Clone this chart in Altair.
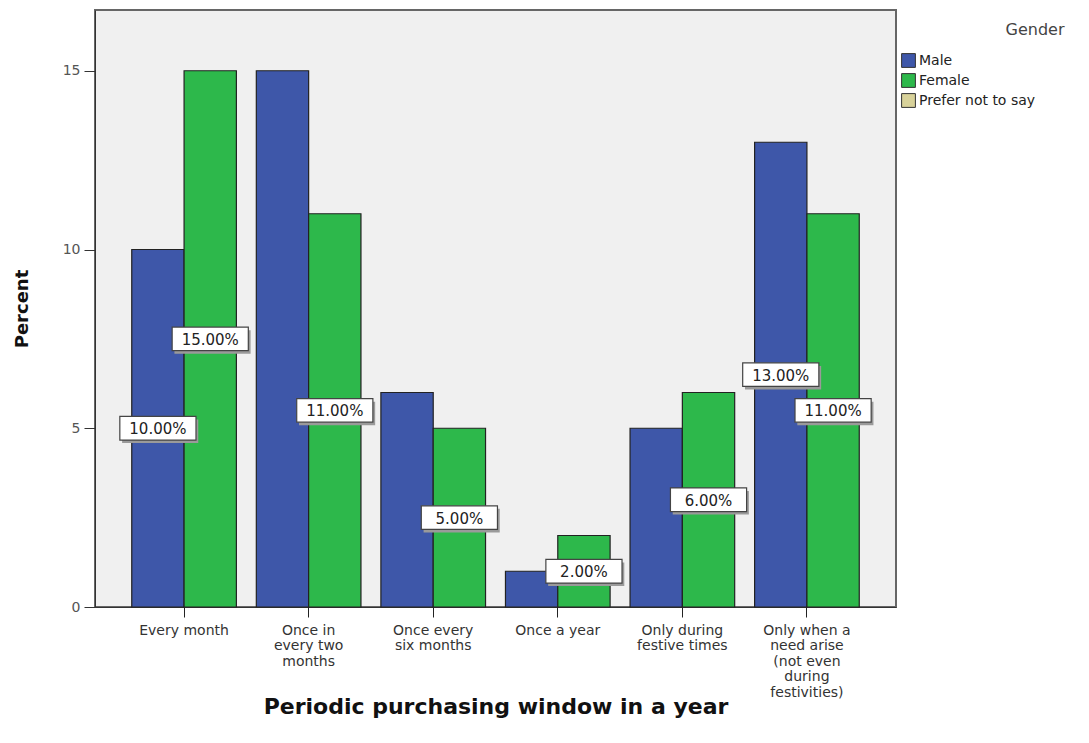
import altair as alt
import pandas as pd

# Purchasing windows (x categories); "|" marks line breaks in the axis labels
windows = [
    "Every month",
    "Once in|every two|months",
    "Once every|six months",
    "Once a year",
    "Only during|festive times",
    "Only when a|need arise|(not even|during|festivities)",
]
genders = ["Male", "Female", "Prefer not to say"]
male_pct = [10, 15, 6, 1, 5, 13]
female_pct = [15, 11, 5, 2, 6, 11]
# which bars carry a value label
male_labelled = [True, False, False, False, False, True]
female_labelled = [True, True, True, True, True, True]

colors = ["#3E57A9", "#2DB84B", "#D8D29A"]
FONT = "DejaVu Sans"

rows = []
for i, w in enumerate(windows):
    rows.append({"window": w, "gender": "Male", "pct": male_pct[i], "lab": male_labelled[i]})
    rows.append({"window": w, "gender": "Female", "pct": female_pct[i], "lab": female_labelled[i]})
df = pd.DataFrame(rows)

x_scale = alt.Scale(domain=windows, paddingInner=0.16, paddingOuter=0.295)
xo_scale = alt.Scale(domain=["Male", "Female"], paddingInner=0, paddingOuter=0)
y_scale = alt.Scale(domain=[0, 16.7], nice=False, zero=True)

x_enc = alt.X(
    "window:N",
    scale=x_scale,
    sort=windows,
    axis=alt.Axis(
        title="Periodic purchasing window in a year",
        labelAngle=0,
        labelExpr="split(datum.label, '|')",
        labelFont=FONT,
        labelFontSize=14,
        labelColor="#333333",
        labelLineHeight=15.5,
        labelPadding=6,
        labelLimit=200,
        tickSize=10,
        tickColor="#222222",
        domainColor="#333333",
        titleFont=FONT,
        titleFontSize=22,
        titleFontWeight="bold",
        titleColor="#111111",
        titleY=99,
        titleBaseline="middle",
    ),
)

y_enc = alt.Y(
    "pct:Q",
    scale=y_scale,
    axis=alt.Axis(
        title="Percent",
        values=[0, 5, 10, 15],
        grid=False,
        labelFont=FONT,
        labelFontSize=14,
        labelColor="#555555",
        labelPadding=4,
        tickSize=11,
        tickColor="#333333",
        domainColor="#333333",
        titleFont=FONT,
        titleFontSize=18,
        titleFontWeight="bold",
        titleColor="#111111",
        titleX=-73,
        titleBaseline="middle",
    ),
)

bars = alt.Chart(df).mark_bar(stroke="#222222", strokeWidth=1.2).encode(
    x=x_enc,
    xOffset=alt.XOffset("gender:N", scale=xo_scale, sort=["Male", "Female"]),
    y=y_enc,
    color=alt.Color(
        "gender:N",
        scale=alt.Scale(domain=genders, range=colors),
        legend=alt.Legend(
            title=None,
            orient="none",
            legendX=806,
            legendY=43,
            labelFont=FONT,
            labelFontSize=14,
            labelColor="#222222",
            symbolType="square",
            symbolSize=190,
            symbolStrokeColor="#333333",
            symbolStrokeWidth=1,
            symbolOpacity=1,
            rowPadding=1,
            labelOffset=3,
        ),
    ),
)

# legend heading drawn on its own so it sits centred over the legend text
legend_title = alt.Chart(pd.DataFrame({"t": ["Gender"]})).mark_text(
    font=FONT, fontSize=16, color="#444444", align="center", baseline="middle"
).encode(text="t:N", x=alt.value(940), y=alt.value(20))

lab_df = df[df["lab"]].copy()
lab_df["mid"] = lab_df["pct"] / 2
lab_df["text"] = lab_df["pct"].map(lambda v: f"{v:.2f}%")

lab_base = alt.Chart(lab_df).encode(
    x=alt.X("window:N", scale=x_scale, sort=windows),
    xOffset=alt.XOffset("gender:N", scale=xo_scale, sort=["Male", "Female"]),
    y=alt.Y("mid:Q", scale=y_scale),
)

box_path = "M-1,-0.31L1,-0.31L1,0.31L-1,0.31Z"
shadow_path = "M-0.94,-0.23L1.06,-0.23L1.06,0.39L-0.94,0.39Z"

shadow = lab_base.mark_point(
    shape=shadow_path, size=5800, filled=True, fill="#9A9A9A", opacity=1, strokeWidth=0
)
box = lab_base.mark_point(
    shape=box_path, size=5800, filled=True, fill="white", stroke="#444444",
    strokeWidth=1.2, opacity=1,
)
text = lab_base.mark_text(
    font=FONT, fontSize=15, color="#222222", baseline="middle", dy=1
).encode(text="text:N")

chart = (
    alt.layer(bars, shadow, box, text, legend_title)
    .properties(
        width=801,
        height=597,
        padding={"left": 95, "top": 10, "right": 193, "bottom": 136},
        autosize=alt.AutoSizeParams(type="none"),
        background="white",
    )
    .configure_view(fill="#F0F0F0", stroke="#666666", strokeWidth=2)
)

chart.save("out.html", embed_options={"renderer": "svg", "actions": False})
